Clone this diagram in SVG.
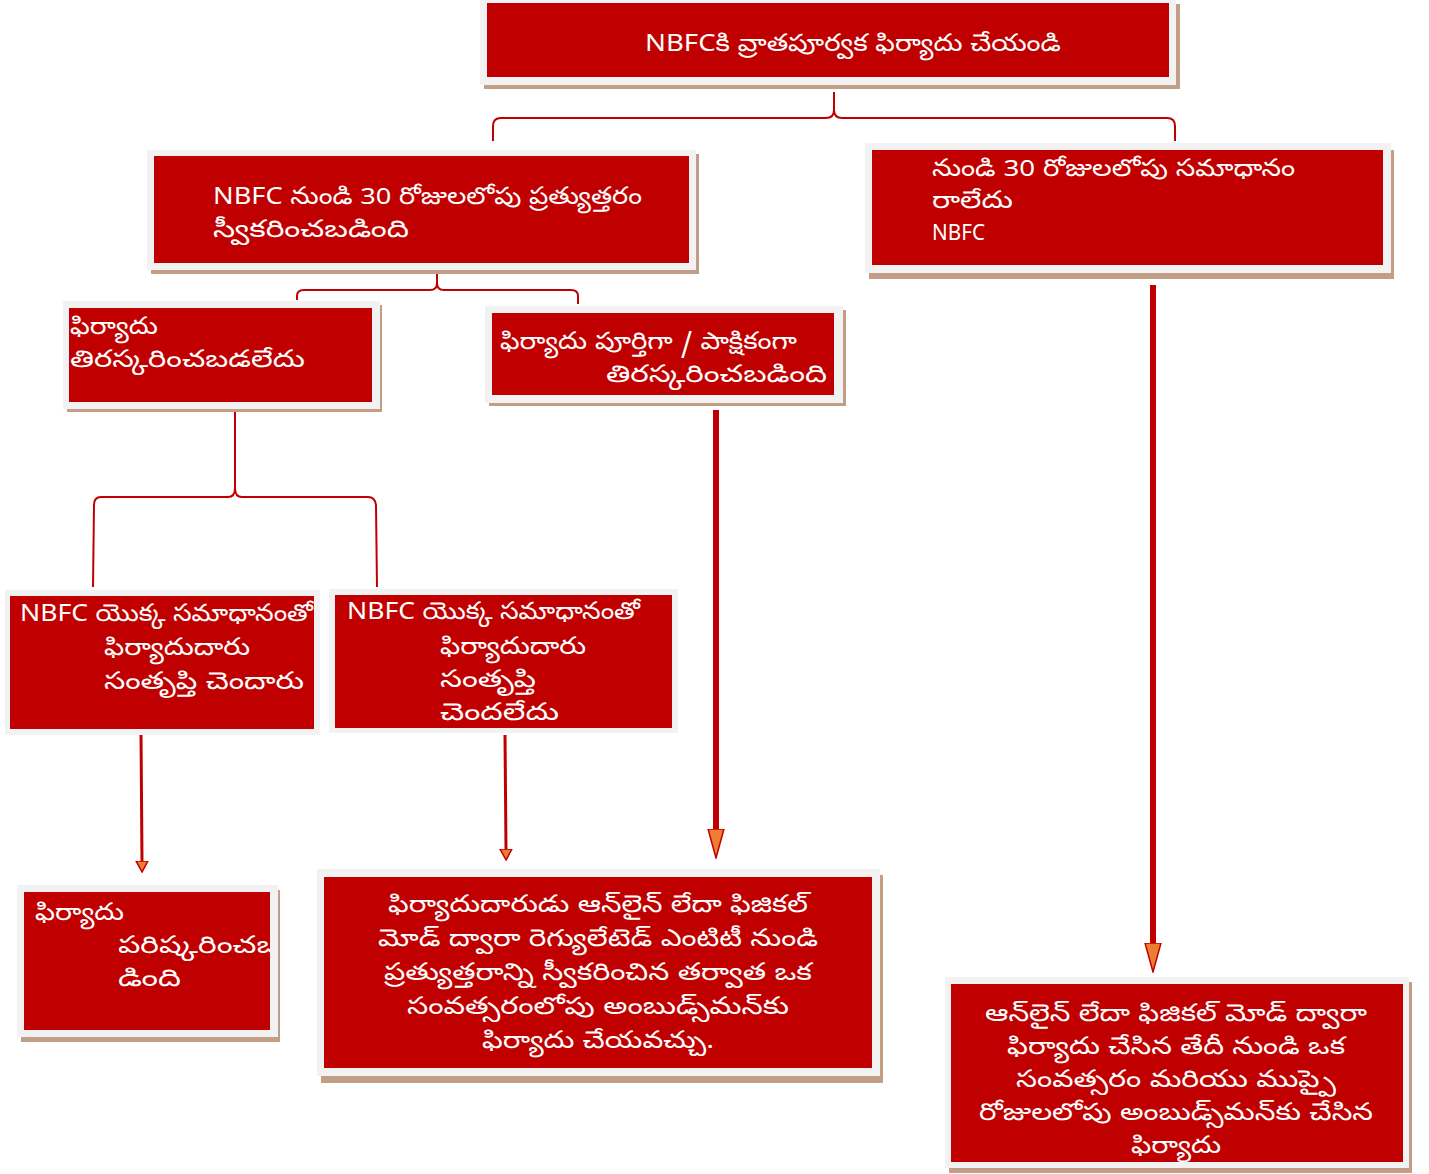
<svg xmlns="http://www.w3.org/2000/svg" width="1429" height="1174" viewBox="0 0 1429 1174">
<style>
.sh{fill:#c39e87}
.fr{fill:#f2f2f2}
.bx{fill:#c00000}
.t{font-family:"Noto Sans Telugu","Noto Sans","DejaVu Sans",sans-serif;font-size:24px;fill:#ffffff}
.e{font-family:"Noto Sans","Liberation Sans",sans-serif;font-size:21px;fill:#ffffff}
.c{text-anchor:middle}
.br{fill:none;stroke:#c00000;stroke-width:2}
.ar{fill:none;stroke:#c00000}
</style>
<defs>
<marker id="big" markerUnits="userSpaceOnUse" viewBox="0 0 30 18" refX="0" refY="9" markerWidth="30" markerHeight="18" orient="auto">
<path d="M0,1 L29,9 L0,17 Z" fill="#ed7d31" stroke="#c00000" stroke-width="1.5"/>
</marker>
<marker id="small" markerUnits="userSpaceOnUse" viewBox="0 0 12 14" refX="0" refY="7" markerWidth="12" markerHeight="14" orient="auto">
<path d="M0,1 L11,7 L0,13 Z" fill="#ed7d31" stroke="#c00000" stroke-width="1.5"/>
</marker>
</defs>

<g id="connectors">
<path class="br" d="M834,92 L834,110 Q834,118 826,118 L501,118 Q493,118 493,126 L493,141"/>
<path class="br" d="M834,110 Q834,118 842,118 L1167,118 Q1175,118 1175,126 L1175,141"/>
<path class="br" d="M437,272 L437,283 Q437,290 430,290 L304,290 Q297,290 297,296 L297,300"/>
<path class="br" d="M437,283 Q437,290 444,290 L571,290 Q578,290 578,296 L578,304"/>
<path class="br" d="M235,410 L235,488 Q235,497 228,497 L101,497 Q94,497 94,505 L93,587"/>
<path class="br" d="M235,488 Q235,497 242,497 L368,497 Q375,497 376,505 L377,587"/>
<line class="ar" x1="141" y1="733" x2="142" y2="861" stroke-width="3" marker-end="url(#small)"/>
<line class="ar" x1="505" y1="735" x2="506" y2="849" stroke-width="3" marker-end="url(#small)"/>
<line class="ar" x1="716" y1="410" x2="716" y2="829" stroke-width="6" marker-end="url(#big)"/>
<line class="ar" x1="1153" y1="285" x2="1153" y2="943" stroke-width="6" marker-end="url(#big)"/>
</g>

<g id="n1">
<rect class="sh" x="484" y="4" width="696" height="85"/>
<rect class="fr" x="480" y="0" width="696" height="85"/>
<rect class="bx" x="487" y="3" width="682" height="74"/>
<text class="t c" x="853" y="51" textLength="416" lengthAdjust="spacingAndGlyphs">NBFCకి వ్రాతపూర్వక ఫిర్యాదు చేయండి</text>
</g>

<g id="n2">
<rect class="sh" x="151" y="154" width="548" height="120"/>
<rect class="fr" x="147" y="150" width="549" height="120"/>
<rect class="bx" x="154" y="156" width="535" height="107"/>
<text class="t" x="213" y="204" textLength="429" lengthAdjust="spacingAndGlyphs">NBFC నుండి 30 రోజులలోపు ప్రత్యుత్తరం</text>
<text class="t" x="213" y="237" textLength="196" lengthAdjust="spacingAndGlyphs">స్వీకరించబడింది</text>
</g>

<g id="n3">
<rect class="sh" x="869" y="150" width="525" height="129"/>
<rect class="fr" x="865" y="143" width="526" height="130"/>
<rect class="bx" x="872" y="150" width="511" height="115"/>
<text class="t" x="932" y="176" textLength="363" lengthAdjust="spacingAndGlyphs">నుండి 30 రోజులలోపు సమాధానం</text>
<text class="t" x="932" y="208" textLength="81" lengthAdjust="spacingAndGlyphs">రాలేదు</text>
<text class="e" x="932" y="240" textLength="53" lengthAdjust="spacingAndGlyphs">NBFC</text>
</g>

<g id="n4">
<rect class="sh" x="67" y="305" width="315" height="107"/>
<rect class="fr" x="63" y="301" width="317" height="108"/>
<rect class="bx" x="69" y="308" width="303" height="94"/>
<text class="t" x="70" y="334" textLength="88" lengthAdjust="spacingAndGlyphs">ఫిర్యాదు</text>
<text class="t" x="70" y="367" textLength="235" lengthAdjust="spacingAndGlyphs">తిరస్కరించబడలేదు</text>
</g>

<g id="n5">
<rect class="sh" x="489" y="310" width="357" height="96"/>
<rect class="fr" x="485" y="306" width="358" height="97"/>
<rect class="bx" x="492" y="313" width="342" height="82"/>
<text class="t" x="500" y="349" textLength="297" lengthAdjust="spacingAndGlyphs">ఫిర్యాదు పూర్తిగా / పాక్షికంగా</text>
<text class="t" x="606" y="382" textLength="221" lengthAdjust="spacingAndGlyphs">తిరస్కరించబడింది</text>
</g>

<g id="n6">
<rect class="fr" x="5" y="590" width="315" height="145"/>
<rect class="bx" x="10" y="596" width="304" height="133"/>
<text class="t" x="20" y="621" textLength="293" lengthAdjust="spacingAndGlyphs">NBFC యొక్క సమాధానంతో</text>
<text class="t" x="104" y="655" textLength="146" lengthAdjust="spacingAndGlyphs">ఫిర్యాదుదారు</text>
<text class="t" x="104" y="689" textLength="200" lengthAdjust="spacingAndGlyphs">సంతృప్తి చెందారు</text>
</g>

<g id="n7">
<rect class="fr" x="329" y="589" width="349" height="144"/>
<rect class="bx" x="335" y="595" width="337" height="133"/>
<text class="t" x="347" y="619" textLength="293" lengthAdjust="spacingAndGlyphs">NBFC యొక్క సమాధానంతో</text>
<text class="t" x="440" y="654" textLength="146" lengthAdjust="spacingAndGlyphs">ఫిర్యాదుదారు</text>
<text class="t" x="440" y="687" textLength="96" lengthAdjust="spacingAndGlyphs">సంతృప్తి</text>
<text class="t" x="440" y="720" textLength="119" lengthAdjust="spacingAndGlyphs">చెందలేదు</text>
</g>

<g id="n8">
<clipPath id="cp8"><rect x="24" y="892" width="246" height="138"/></clipPath>
<rect class="sh" x="21" y="890" width="259" height="152"/>
<rect class="fr" x="17" y="885" width="261" height="152"/>
<rect class="bx" x="24" y="892" width="246" height="138"/>
<g clip-path="url(#cp8)">
<text class="t" x="35" y="920" textLength="89" lengthAdjust="spacingAndGlyphs">ఫిర్యాదు</text>
<text class="t" x="118" y="953" textLength="162" lengthAdjust="spacingAndGlyphs">పరిష్కరించబ</text>
<text class="t" x="118" y="986" textLength="63" lengthAdjust="spacingAndGlyphs">డింది</text>
</g>
</g>

<g id="n9">
<rect class="sh" x="321" y="875" width="562" height="208"/>
<rect class="fr" x="317" y="869" width="563" height="207"/>
<rect class="bx" x="324" y="877" width="548" height="191"/>
<text class="t c" x="598" y="912" textLength="420" lengthAdjust="spacingAndGlyphs">ఫిర్యాదుదారుడు ఆన్‌లైన్ లేదా ఫిజికల్</text>
<text class="t c" x="598" y="946" textLength="440" lengthAdjust="spacingAndGlyphs">మోడ్ ద్వారా రెగ్యులేటెడ్ ఎంటిటీ నుండి</text>
<text class="t c" x="598" y="980" textLength="428" lengthAdjust="spacingAndGlyphs">ప్రత్యుత్తరాన్ని స్వీకరించిన తర్వాత ఒక</text>
<text class="t c" x="598" y="1014" textLength="382" lengthAdjust="spacingAndGlyphs">సంవత్సరంలోపు అంబుడ్స్‌మన్‌కు</text>
<text class="t c" x="598" y="1048" textLength="232" lengthAdjust="spacingAndGlyphs">ఫిర్యాదు చేయవచ్చు.</text>
</g>

<g id="n10">
<rect class="sh" x="949" y="982" width="463" height="191"/>
<rect class="fr" x="945" y="977" width="464" height="191"/>
<rect class="bx" x="951" y="984" width="452" height="178"/>
<text class="t c" x="1176" y="1021" textLength="382" lengthAdjust="spacingAndGlyphs">ఆన్‌లైన్ లేదా ఫిజికల్ మోడ్ ద్వారా</text>
<text class="t c" x="1176" y="1054" textLength="338" lengthAdjust="spacingAndGlyphs">ఫిర్యాదు చేసిన తేదీ నుండి ఒక</text>
<text class="t c" x="1176" y="1087" textLength="320" lengthAdjust="spacingAndGlyphs">సంవత్సరం మరియు ముప్పై</text>
<text class="t c" x="1176" y="1120" textLength="394" lengthAdjust="spacingAndGlyphs">రోజులలోపు అంబుడ్స్‌మన్‌కు చేసిన</text>
<text class="t c" x="1176" y="1153" textLength="90" lengthAdjust="spacingAndGlyphs">ఫిర్యాదు</text>
</g>
</svg>
